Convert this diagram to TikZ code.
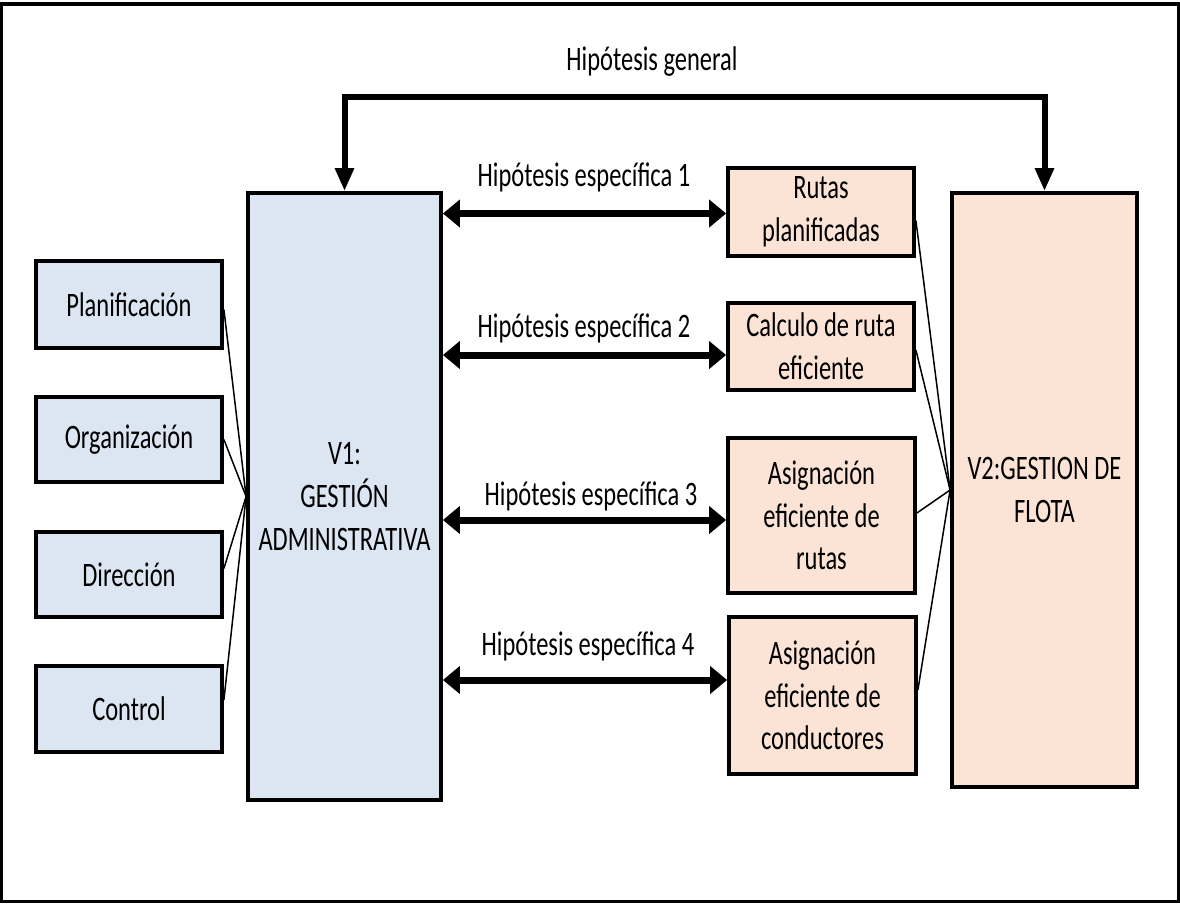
\documentclass[tikz,border=0pt]{standalone}
\usepackage{fontspec}
\setmainfont{Carlito}[FakeStretch=0.714]
\usetikzlibrary{arrows.meta,fit,calc}
\definecolor{boxblue}{HTML}{DCE6F2}
\definecolor{boxpeach}{HTML}{FBE4D6}
\tikzset{
  txt/.style={font=\fontsize{34.3pt}{42.7pt}\selectfont, align=center, inner sep=0pt},
  box/.style={draw=black, line width=3.8pt, inner sep=0pt},
  bluebox/.style={box, fill=boxblue},
  peachbox/.style={box, fill=boxpeach},
  boxtext/.style={txt, anchor=center},
  link/.style={draw=black, line width=1.5pt},
  sidetip/.tip={Triangle[length=17pt,width=27pt]},
  downtip/.tip={Triangle[length=23pt,width=18pt]},
  biarrow/.style={line width=7pt, sidetip-sidetip},
  toparrow/.style={line width=6pt, line join=miter, downtip-downtip},
  frame/.style={draw=black, line width=3.6pt}
}
\begin{document}
\begin{tikzpicture}[x=1pt, y=-1pt]
  \useasboundingbox (0,0) rectangle (1180,905);
  \draw[frame] (1.5,4) rectangle (1178.5,901.5);

  % dimensions of variable V1
  \node[bluebox, fit={(36,261)(222,348)}] (plan) {};
  \node[bluebox, fit={(36,397)(222,482)}] (org) {};
  \node[bluebox, fit={(36,532)(222,617)}] (dir) {};
  \node[bluebox, fit={(36,666)(222,752)}] (ctrl) {};

  % the two variables
  \node[bluebox, fit={(248,193)(441,800)}] (v1) {};
  \node[peachbox, fit={(952,193)(1137,787)}] (v2) {};

  % dimensions of variable V2
  \node[peachbox, fit={(728,168)(914,256)}] (r1) {};
  \node[peachbox, fit={(728,303)(914,390)}] (r2) {};
  \node[peachbox, fit={(728,438)(915,593)}] (r3) {};
  \node[peachbox, fit={(729,617)(916,774)}] (r4) {};

  % box texts
  \node[boxtext] (planT) at (plan.center) {Planificación};
  \node[boxtext] (orgT) at (org.center) {Organización};
  \node[boxtext] (dirT) at (dir.center) {Dirección};
  \node[boxtext] (ctrlT) at (ctrl.center) {Control};
  \node[boxtext] (v1T) at (v1.center) {V1:\\GESTIÓN\\ADMINISTRATIVA};
  \node[boxtext] (v2T) at (v2.center) {V2:GESTION DE\\FLOTA};
  \node[boxtext] (r1T) at (r1.center) {Rutas\\planificadas};
  \node[boxtext] (r2T) at (r2.center) {Calculo de ruta\\eficiente};
  \node[boxtext] (r3T) at (r3.center) {Asignación\\eficiente de\\rutas};
  \node[boxtext] (r4T) at (r4.center) {Asignación\\eficiente de\\conductores};

  % hypothesis labels
  \node[txt, anchor=base] (hg) at (652,70) {Hipótesis general};
  \node[txt, anchor=base] (h1) at (584,186) {Hipótesis específica 1};
  \node[txt, anchor=base] (h2) at (584,337) {Hipótesis específica 2};
  \node[txt, anchor=base] (h3) at (591,505) {Hipótesis específica 3};
  \node[txt, anchor=base] (h4) at (588,655) {Hipótesis específica 4};

  % general hypothesis link
  \coordinate (gl) at (652,97);
  \draw[toparrow] (v1.north) -- (v1.north |- gl) -| (v2.north);

  % specific hypothesis links
  \coordinate (e1) at ($(r1.west)+(0,1.5)$);
  \coordinate (e2) at ($(r2.west)+(0,8.5)$);
  \coordinate (e3) at ($(r3.west)+(0,4.5)$);
  \coordinate (e4) at ($(r4.west)+(0,-15.5)$);
  \draw[biarrow] (v1.east |- e1) -- (e1);
  \draw[biarrow] (v1.east |- e2) -- (e2);
  \draw[biarrow] (v1.east |- e3) -- (e3);
  \draw[biarrow] (v1.east |- e4) -- (e4);

  % dimension links
  \draw[link] ($(plan.east)+(0,5)$) -- (v1.west);
  \draw[link] (org.east) -- (v1.west);
  \draw[link] ($(dir.east)+(0,-6)$) -- (v1.west);
  \draw[link] ($(ctrl.east)+(0,-9)$) -- (v1.west);
  \draw[link] ($(r1.east)+(0,8.5)$) -- (v2.west);
  \draw[link] ($(r2.east)+(0,3.5)$) -- (v2.west);
  \draw[link] ($(r3.east)+(0,-2.5)$) -- (v2.west);
  \draw[link] ($(r4.east)+(0,-5.5)$) -- (v2.west);
\end{tikzpicture}
\end{document}
